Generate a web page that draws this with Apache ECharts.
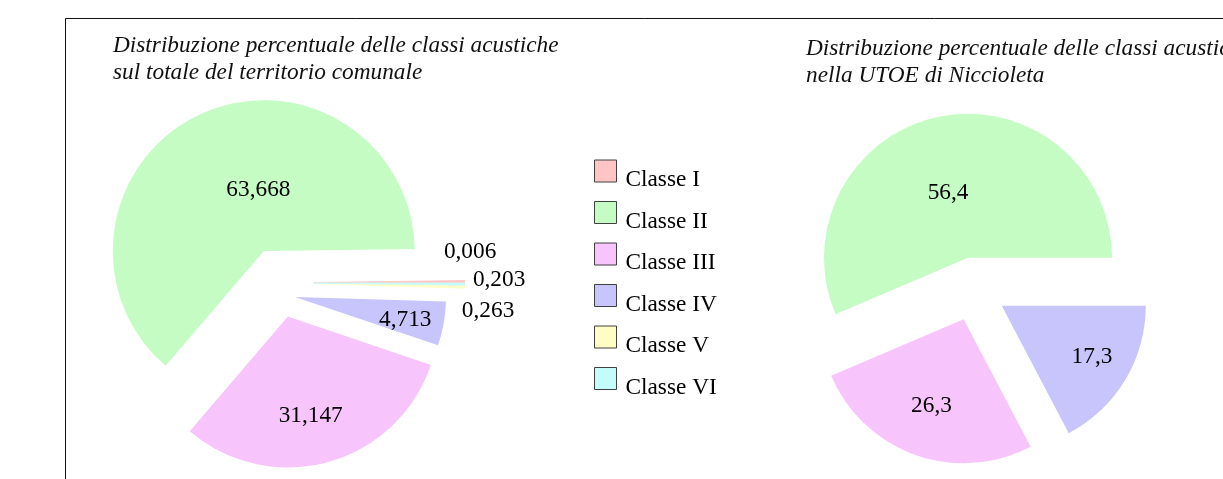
<!DOCTYPE html>
<html><head><meta charset="utf-8">
<script src="https://cdn.jsdelivr.net/npm/echarts@6/dist/echarts.min.js"></script>
<style>html,body{margin:0;padding:0;background:#fff}#c{width:1223px;height:479px}</style>
</head><body><div id="c"></div>
<script>
// ---- data ----
const categories = ['Classe I', 'Classe II', 'Classe III', 'Classe IV', 'Classe V', 'Classe VI'];
const colors = ['#ffc4c4', '#c4fcc4', '#f8c4fc', '#c8c4fc', '#fffcc4', '#c4fcfc'];
const totalValues = [0.006, 63.668, 31.147, 4.713, 0.263, 0.203];
const utoeCategories = ['Classe II', 'Classe III', 'Classe IV'];
const utoeValues = [56.4, 26.3, 17.3];
const titleTotal = ['Distribuzione percentuale delle classi acustiche', 'sul totale del territorio comunale'];
const titleUtoe = ['Distribuzione percentuale delle classi acustiche', 'nella UTOE di Niccioleta'];

// ---- styles ----
const FONT = 'Liberation Serif';
const FS = 23.3;
const fmtNum = v => String(v).replace('.', ',');
const colorOf = name => colors[categories.indexOf(name)];
const tinyIdx = [0, 4, 5];
// label nudges (px) from the default inside position, per category
const leftShift = { 'Classe I': [78, -30], 'Classe II': [28, 10], 'Classe III': [2, 24], 'Classe IV': [33, 9], 'Classe V': [96, 26], 'Classe VI': [107, -4] };
const rightShift = { 'Classe II': [-5, 9], 'Classe III': [-7, 16], 'Classe IV': [26, 12] };

function shiftedLabel(value, s, show) {
  const dx = s[0], dy = s[1];
  const t = '{v|' + fmtNum(value) + '}';
  return {
    show: show,
    formatter: dy >= 0 ? '{s| }\n' + t : t + '\n{s| }',
    padding: [0, Math.max(-2 * dx, 0), 0, Math.max(2 * dx, 0)],
    rich: {
      s: { fontSize: 1, lineHeight: Math.max(2 * Math.abs(dy), 1) },
      v: { fontFamily: FONT, fontSize: FS, color: '#000' }
    }
  };
}

const baseSeries = {
  type: 'pie', startAngle: 0, clockwise: false, minAngle: 0.8,
  avoidLabelOverlap: false, animation: false, silent: true,
  emphasis: { disabled: true },
  itemStyle: { borderWidth: 0 },
  labelLine: { show: false },
  labelLayout: { hideOverlap: false },
  label: { position: 'inside', fontFamily: FONT, fontSize: FS, color: '#000' }
};

const leftMain = Object.assign({}, baseSeries, {
  name: 'totale', center: [278.6, 282.8], radius: 151,
  selectedMode: 'multiple', selectedOffset: 35,
  data: totalValues.map((v, i) => ({
    name: categories[i], value: v, selected: true,
    itemStyle: i === 3 ? { color: 'rgba(0,0,0,0)' } :
      (tinyIdx.includes(i) ? { color: colors[i], borderColor: colors[i], borderWidth: 0.8 } : { color: colors[i] }),
    label: shiftedLabel(v, leftShift[categories[i]], i !== 3)
  }))
});
const leftIV = Object.assign({}, baseSeries, {
  name: 'totale IV', center: [295, 297], radius: 151,
  data: totalValues.map((v, i) => ({
    name: categories[i], value: v,
    itemStyle: { color: i === 3 ? colors[i] : 'rgba(0,0,0,0)' },
    label: shiftedLabel(v, leftShift[categories[i]], i === 3)
  }))
});
const right = Object.assign({}, baseSeries, {
  name: 'UTOE', center: [974.4, 289.2], radius: 144,
  selectedMode: 'multiple', selectedOffset: 32,
  data: utoeValues.map((v, i) => ({
    name: utoeCategories[i], value: v, selected: true,
    itemStyle: { color: colorOf(utoeCategories[i]) },
    label: shiftedLabel(v, rightShift[utoeCategories[i]], true)
  }))
});

const titleStyle = { fontFamily: FONT, fontStyle: 'italic', fontWeight: 'normal', fontSize: FS, lineHeight: 27, color: '#111' };
const option = {
  backgroundColor: '#fff',
  animation: false,
  title: [
    { text: titleTotal.join('\n'), left: 113, top: 32, padding: 0, textStyle: titleStyle },
    { text: titleUtoe.join('\n'), left: 806, top: 35, padding: 0, textStyle: titleStyle }
  ],
  legend: {
    orient: 'vertical', left: 594, top: 159, padding: 0, icon: 'rect',
    itemWidth: 22, itemHeight: 22, itemGap: 9, selectedMode: false,
    itemStyle: { borderColor: '#404040', borderWidth: 1 },
    formatter: '{s| }\n{n|{name}}',
    textStyle: {
      fontFamily: FONT, fontSize: FS, color: '#000',
      rich: {
        s: { fontSize: 1, lineHeight: 18 },
        n: { fontFamily: FONT, fontSize: FS, color: '#000', padding: [0, 0, 0, 4] }
      }
    },
    data: categories.map((n, i) => ({ name: n, itemStyle: { color: colors[i] } }))
  },
  graphic: [{
    type: 'rect', silent: true, z: -10,
    shape: { x: 65.5, y: 18.5, width: 1400, height: 700 },
    style: { fill: null, stroke: '#111', lineWidth: 1 }
  }],
  series: [leftMain, leftIV, right]
};
const chart = echarts.init(document.getElementById('c'), null, { renderer: 'canvas' });
chart.setOption(option);
</script></body></html>
